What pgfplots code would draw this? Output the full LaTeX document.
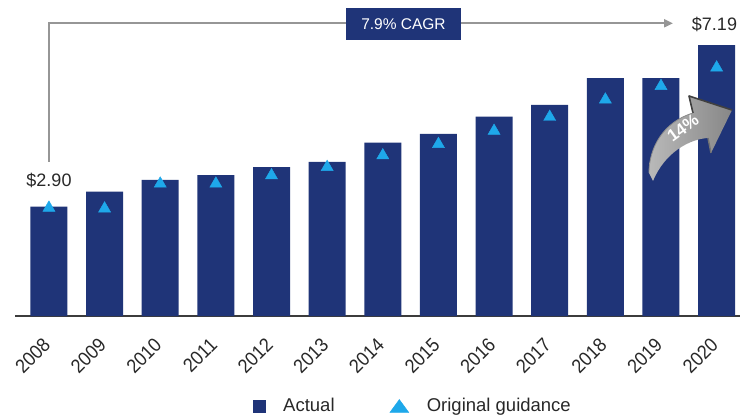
\documentclass[border=0pt]{standalone}
\usepackage{fontspec}
\setmainfont{Liberation Sans}
\newfontfamily\narrowfont[FakeStretch=0.92]{Liberation Sans}
\usepackage{pgfplots}
\pgfplotsset{compat=1.18}
\usetikzlibrary{arrows.meta}
\definecolor{navy}{RGB}{31,52,120}
\definecolor{lblue}{RGB}{30,168,234}
\definecolor{cagrgray}{RGB}{150,150,150}
\definecolor{txt}{RGB}{40,40,40}
\definecolor{axisgray}{RGB}{60,60,60}
\definecolor{arrowlight}{RGB}{185,185,185}
\definecolor{arrowdark}{RGB}{135,135,135}
\begin{document}
\begin{tikzpicture}
\begin{axis}[
  name=ax,
  scale only axis,
  width=725bp, height=316bp,
  xmin=-0.61, xmax=12.42,
  ymin=0, ymax=8.384,
  axis x line*=bottom,
  axis y line=none,
  x axis line style={draw=axisgray, line width=1.4bp},
  xtick={0,1,2,3,4,5,6,7,8,9,10,11,12},
  xticklabels={2008,2009,2010,2011,2012,2013,2014,2015,2016,2017,2018,2019,2020},
  major tick length=0pt,
  xticklabel style={rotate=45, anchor=north east, font=\narrowfont\fontsize{19.5bp}{21bp}\selectfont, text=txt, xshift=-16bp, yshift=-6bp},
  /pgf/number format/assume math mode=true,
  clip=false,
  legend columns=2,
  legend style={at={(0.3283,-0.2848)}, anchor=west, draw=none, fill=none, inner sep=0pt,
    font=\fontsize{18.5bp}{20bp}\selectfont, text=txt, nodes={inner sep=0pt},
    /tikz/every even column/.append style={column sep=55bp}},
]
\addplot[ybar, bar shift=0bp, bar width=37bp, fill=navy, draw=none,
  legend image code/.code={\fill[navy] (0bp,-6.5bp) rectangle (13bp,6.5bp); \path[draw=none,fill=none] (0bp,0bp) -- (30bp,0bp);}]
  coordinates {(0,2.90) (1,3.30) (2,3.61) (3,3.74) (4,3.95) (5,4.09) (6,4.60) (7,4.83) (8,5.29) (9,5.60) (10,6.31) (11,6.31) (12,7.19)};
\addlegendentry{Actual}
\addplot[only marks, mark=triangle*, mark size=7bp, color=lblue,
  legend image code/.code={\fill[lblue] (0bp,-6.5bp) -- (19bp,-6.5bp) -- (9.5bp,6.5bp) -- cycle; \path[draw=none,fill=none] (0bp,0bp) -- (37bp,0bp);}]
  coordinates {(0,2.87) (1,2.85) (2,3.51) (3,3.51) (4,3.73) (5,3.95) (6,4.26) (7,4.56) (8,4.91) (9,5.28) (10,5.74) (11,6.10) (12,6.59)};
\addlegendentry{Original guidance}
\end{axis}
\coordinate (tl) at ([xshift=-15bp]ax.north west);
\begin{scope}[shift={(tl)}, x=1bp, y=-1bp]
  \draw[cagrgray, line width=2bp] (49,162) -- (49,23.3) -- (346,23.3);
  \draw[cagrgray, line width=2bp, -{Triangle[length=9bp,width=8bp]}] (461,23.3) -- (673,23.3);
  \fill[navy] (346,8) rectangle (461,40);
  \node[white, font=\fontsize{15.5bp}{18bp}\selectfont] at (403.5,24.5) {7.9\% CAGR};
  \node[txt, font=\fontsize{18bp}{20bp}\selectfont] at (49,180) {\$2.90};
  \node[txt, font=\fontsize{18bp}{20bp}\selectfont] at (714.5,24.5) {\$7.19};
  % 14% block arrow
  \shade[left color=arrowlight, right color=arrowdark]
    (649,173) .. controls (649,148) and (663,122) .. (693,113) -- (689,96) -- (732,110) -- (711,153) -- (708,138) .. controls (690,139) and (665,152) .. (653,181) -- cycle;
  \draw[black!75, line width=1.6bp, line join=round] (693,113) -- (689,96) -- (732,110);
  \draw[black!55, line width=1.4bp, line join=round] (708,138) -- (711,153);
  \draw[black!45, line width=0.8bp] (649,173) .. controls (649,148) and (663,122) .. (693,113);
  \node[white, rotate=36, font=\bfseries\fontsize{17bp}{19bp}\selectfont] at (683,128) {14\%};
\end{scope}
\pgfresetboundingbox
\path[use as bounding box] (tl) rectangle ++(740bp,-415bp);
\end{tikzpicture}
\end{document}
